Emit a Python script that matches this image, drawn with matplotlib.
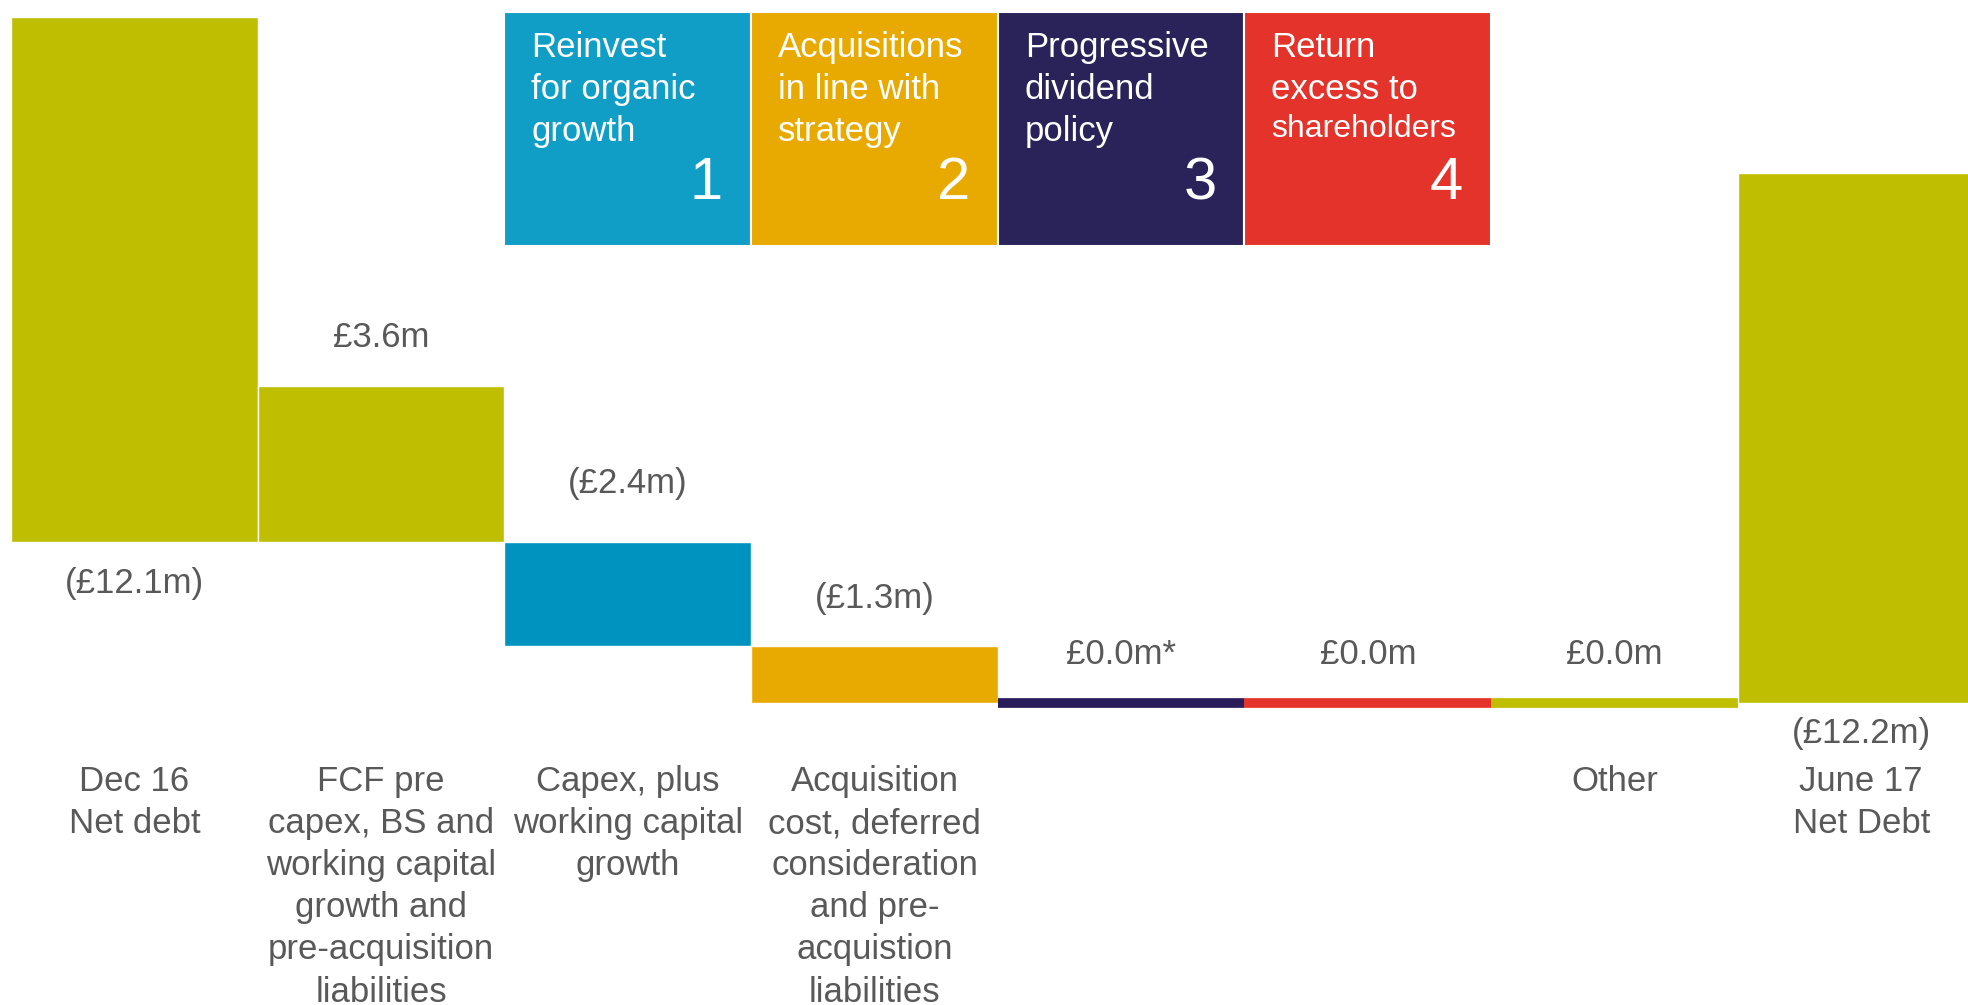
import matplotlib
matplotlib.use("Agg")
import matplotlib.pyplot as plt
import matplotlib.transforms as mtransforms
from matplotlib.patches import Rectangle

plt.rcParams['font.family'] = ['Liberation Sans', 'DejaVu Sans']

# ---- data (GBP millions) ----
categories = [
    "Dec 16\nNet debt",
    "FCF pre\ncapex, BS and\nworking capital\ngrowth and\npre-acquisition\nliabilities",
    "Capex, plus\nworking capital\ngrowth",
    "Acquisition\ncost, deferred\nconsideration\nand pre-\nacquistion\nliabilities",
    "",
    "",
    "Other",
    "June 17\nNet Debt",
]
opening_net_debt = 12.1
movements = [3.6, -2.4, -1.3, 0.0, 0.0, 0.0]
closing_net_debt = 12.2
label_notes = ["", "", "", "", "*", "", "", ""]

pillar_titles = [
    "Reinvest\nfor organic\ngrowth",
    "Acquisitions\nin line with\nstrategy",
    "Progressive\ndividend\npolicy",
    "Return\nexcess to\nshareholders",
]
pillar_numbers = ["1", "2", "3", "4"]
pillar_columns = [2, 3, 4, 5]

# ---- style ----
OLIVE = "#BFBE00"
bar_colors = [OLIVE, OLIVE, "#0093C0", "#E8A900", "#281D5A", "#E4332A", OLIVE, OLIVE]
pillar_colors = ["#109EC7", "#E8A900", "#2A2359", "#E4332A"]
TEXT_GREY = "#595959"
FS = 25

W, H = 1968, 1005
fig = plt.figure(figsize=(W / 100, H / 100), dpi=100)
ax = fig.add_axes([0, 0, 1, 1])
ax.set_axis_off()

col_w_px = 246.7
left_px = 11
ax.set_xlim(-0.5 - left_px / col_w_px, (W - left_px) / col_w_px - 0.5)
px_per_m = 43.4
zero_px = 542
ax.set_ylim((zero_px - H) / px_per_m, zero_px / px_per_m)

# ---- bar geometry: inflows rise from the base, outflows step downwards ----
bottoms = [0.0]
heights = [opening_net_debt]
running = 0.0
for v in movements:
    if v > 0:
        bottoms.append(0.0)
    else:
        bottoms.append(running)
        running += v
    heights.append(v)
bottoms.append(running)
heights.append(closing_net_debt)

xs = list(range(len(categories)))
for x, b, h, c in zip(xs, bottoms, heights, bar_colors):
    if h == 0:
        ax.hlines(b + h, x - 0.5, x + 0.5, colors=c, linewidth=7,
                  capstyle="butt", zorder=2)
    else:
        ax.bar(x, h, bottom=b, width=1.0, color=c, edgecolor="white",
               linewidth=1.0, zorder=2)


def money(v, debt=False, note=""):
    s = f"£{abs(v):.1f}m"
    if debt or v < 0:
        s = f"({s})"
    return s + note


values = [opening_net_debt] + movements + [closing_net_debt]
label_offsets = [-41, 48, 59, 48, 48, 48, 48, -31]
for i, (x, b, h, v) in enumerate(zip(xs, bottoms, heights, values)):
    debt = i in (0, len(xs) - 1)
    text = money(v, debt=debt, note=label_notes[i])
    if debt:
        anchor = b  # below the bar's base
    elif h > 0:
        anchor = b + h
    else:
        anchor = b
    ax.annotate(text, xy=(x, anchor), xytext=(0, label_offsets[i]),
                textcoords="offset pixels", ha="center", va="center",
                fontsize=FS, color=TEXT_GREY, zorder=4)

# ---- category labels ----
blend = mtransforms.blended_transform_factory(ax.transData, ax.transAxes)
cat_top = 1 - 765 / H
for x, name in zip(xs, categories):
    if name:
        ax.text(x, cat_top, name, transform=blend, ha="center", va="top",
                fontsize=FS, color=TEXT_GREY, linespacing=1.35)

# ---- capital allocation pillars ----
box_top = 1 - 12 / H
box_bot = 1 - 246 / H
for col, title, num, c in zip(pillar_columns, pillar_titles, pillar_numbers, pillar_colors):
    ax.add_patch(Rectangle((col - 0.5, box_bot), 1.0, box_top - box_bot,
                           transform=blend, facecolor=c, edgecolor="white",
                           linewidth=1.5, zorder=3))
    tr = mtransforms.offset_copy(blend, fig=fig, x=27, y=-31, units="dots")
    lines = title.split("\n")
    if len(lines[-1]) > 11:
        ax.text(col - 0.5, 1, "\n".join(lines[:-1]), transform=tr, ha="left",
                va="top", fontsize=FS, color="white", linespacing=1.35, zorder=4)
        tr3 = mtransforms.offset_copy(blend, fig=fig, x=27, y=-114, units="dots")
        ax.text(col - 0.5, 1, lines[-1], transform=tr3, ha="left", va="top",
                fontsize=23, color="white", zorder=4)
    else:
        ax.text(col - 0.5, 1, title, transform=tr, ha="left", va="top",
                fontsize=FS, color="white", linespacing=1.35, zorder=4)
    trn = mtransforms.offset_copy(blend, fig=fig, x=-28, y=-199, units="dots")
    ax.text(col + 0.5, 1, num, transform=trn, ha="right", va="baseline",
            fontsize=43, color="white", zorder=4)

fig.savefig("out.png", dpi=100, facecolor="white")
